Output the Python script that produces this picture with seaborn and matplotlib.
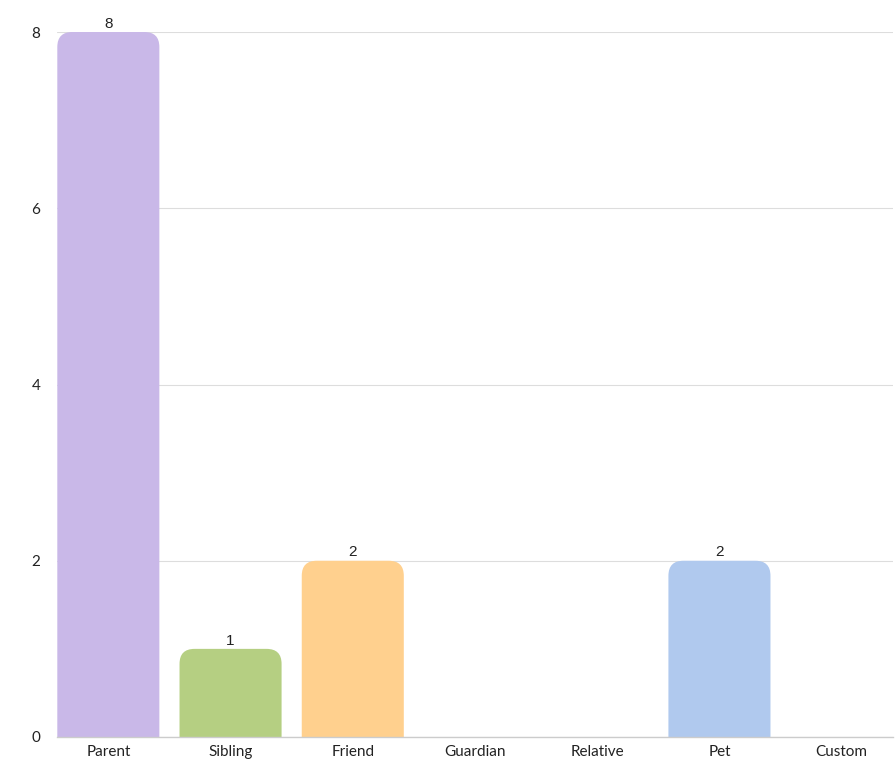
import matplotlib
matplotlib.use("Agg")
import matplotlib.pyplot as plt
import seaborn as sns
import pandas as pd
from matplotlib.patches import FancyBboxPatch

categories = ["Parent", "Sibling", "Friend", "Guardian", "Relative", "Pet", "Custom"]
values = [8, 1, 2, 0, 0, 2, 0]
colors = ["#c9b8e8", "#b5cf82", "#ffd08e", "#f4a6a6", "#9fd8d0", "#b0c9ee", "#e0c3a0"]
y_ticks = [0, 2, 4, 6, 8]

sns.set_theme(style="white")
plt.rcParams["font.family"] = ["Lato", "DejaVu Sans"]

df = pd.DataFrame({"category": categories, "value": values})

fig = plt.figure(figsize=(8.96, 7.65), dpi=100)
ax = fig.add_axes([57/896, 28/765, (893-57)/896, (737-32)/765])

sns.barplot(data=df, x="category", y="value", hue="category", palette=colors,
            legend=False, ax=ax, width=0.835, saturation=1)

ax.set_xlim(-0.42, 6.42)
ax.set_ylim(0, 8)

# replace bars with top-rounded versions
px_per_x = (893-57) / 6.84
px_per_y = (737-32) / 8.0
r_px = 15
rx = r_px / px_per_x
ry = r_px / px_per_y
for p in list(ax.patches):
    x0, w, h = p.get_x(), p.get_width(), p.get_height()
    fc = p.get_facecolor()
    p.remove()
    if h <= 0:
        continue
    fb = FancyBboxPatch((x0, -1), w, h + 1,
                        boxstyle=f"round,pad=0,rounding_size={rx}",
                        mutation_aspect=ry/rx, facecolor=fc, edgecolor="none",
                        zorder=2)
    ax.add_patch(fb)

for i, v in enumerate(values):
    if v > 0:
        ax.text(i, v + 0.015, str(v), ha="center", va="bottom",
                fontsize=11, color="#222222", family=["Liberation Sans", "DejaVu Sans"])

ax.set_yticks(y_ticks)
ax.set_yticklabels([str(t) for t in y_ticks])
ax.yaxis.grid(True, color="#dddddd", linewidth=0.8, zorder=0)
ax.set_axisbelow(True)
for s in ["left", "right", "top"]:
    ax.spines[s].set_visible(False)
ax.spines["bottom"].set_color("#cccccc")
ax.spines["bottom"].set_linewidth(1)
ax.tick_params(axis="both", length=0, labelsize=11, colors="#222222")
ax.tick_params(axis="y", pad=12)
ax.tick_params(axis="x", pad=6)
ax.set_xlabel("")
ax.set_ylabel("")

fig.savefig("out.png", dpi=100, facecolor="white")
